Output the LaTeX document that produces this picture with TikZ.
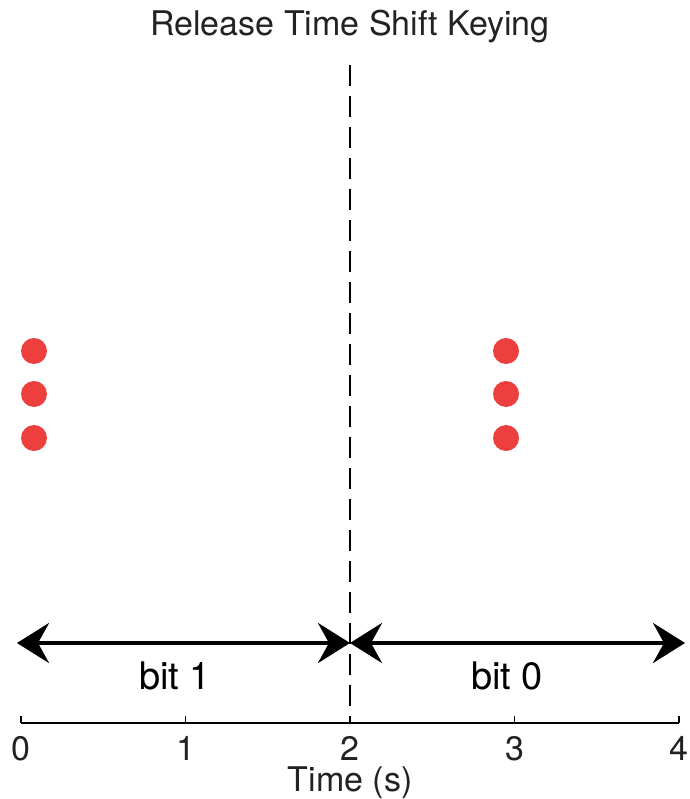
\documentclass[tikz,border=0pt]{standalone}
\usepackage{fontspec}
\setmainfont{TeX Gyre Heros}
\usetikzlibrary{arrows.meta}
\definecolor{dotred}{HTML}{EE3F3F}
\definecolor{txtgray}{HTML}{222222}
\begin{document}
\begin{tikzpicture}[x=1pt,y=-1pt,
  pulse/.style={circle,fill=dotred,inner sep=0pt,minimum size=26pt},
  axisline/.style={line width=1.8pt,black},
  ticklbl/.style={font=\fontsize{34}{34}\selectfont,text=txtgray,anchor=base,inner sep=0pt},
  span/.style={line width=4pt,{Stealth[length=32pt,width=40pt,inset=11pt]}-{Stealth[length=32pt,width=40pt,inset=11pt]}},
  bitlbl/.style={font=\fontsize{38}{38}\selectfont,inner sep=0pt}]
\useasboundingbox (0,0) rectangle (689,799);
% time axis
\coordinate (t0) at (21,723);
\coordinate (t1) at (185.5,723);
\coordinate (t2) at (350,723);
\coordinate (t3) at (514.5,723);
\coordinate (t4) at (679,723);
\draw[axisline] (t0) -- (t4);
\foreach \p/\l in {t0/0,t1/1,t2/2,t3/3,t4/4}{
  \draw[axisline] (\p) -- ++(0,-7);
  \node[ticklbl] (lbl\l) at ([yshift=-37pt]\p) {\l};
}
\node[font=\fontsize{34}{34}\selectfont,text=txtgray,inner sep=0pt,anchor=base] (xlabel) at (350,791) {Time (s)};
% title
\node[font=\fontsize{34}{34}\selectfont,text=txtgray,inner sep=0pt] (title) at (350,27) {Release Time Shift Keying};
% symbol boundary
\coordinate (btop) at (350,65);
\coordinate (bbot) at (350,706);
\draw[line width=1.6pt,dash pattern=on 21pt off 10pt] (btop) -- (bbot);
% bit intervals
\coordinate (aL) at (17,643);
\coordinate (aM) at (350,643);
\coordinate (aR) at (685,643);
\draw[span] (aL) -- (aM);
\draw[span] (aM) -- (aR);
\node[bitlbl] (bit1) at (175,676) {bit 1};
\node[bitlbl] (bit0) at (507,676) {bit 0};
% molecule releases
\foreach \y [count=\i] in {351,394,438}{
  \node[pulse] (l\i) at (34,\y) {};
  \node[pulse] (r\i) at (506,\y) {};
}
\end{tikzpicture}
\end{document}
